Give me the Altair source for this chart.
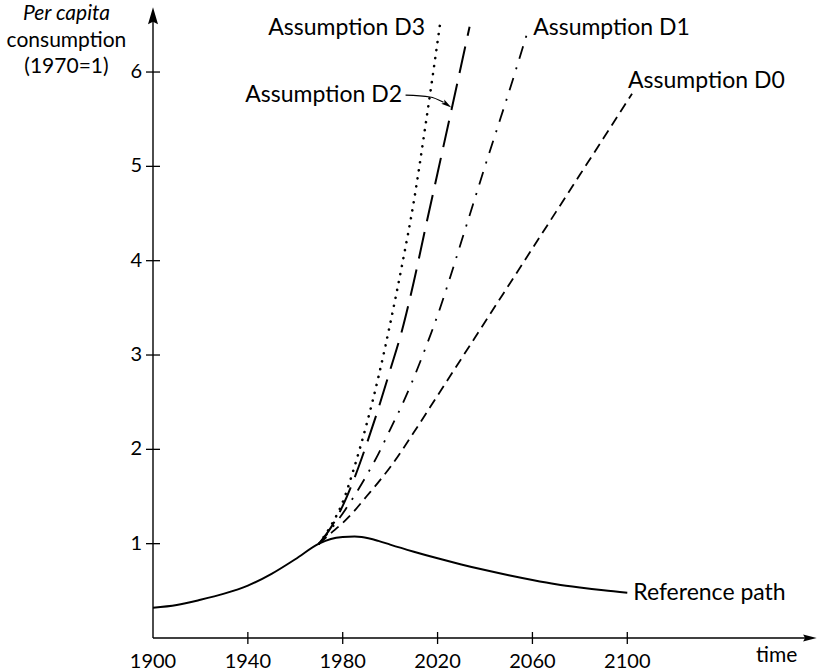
import altair as alt
import pandas as pd

# ---------------- data ----------------
ref_years = [1900, 1910, 1920, 1930, 1940, 1950, 1960, 1970, 1975, 1980, 1985, 1988,
             1995, 2000, 2010, 2020, 2030, 2040, 2050, 2060, 2070, 2080, 2090, 2100]
ref_vals = [0.32, 0.35, 0.405, 0.47, 0.555, 0.68, 0.835, 1.00, 1.05, 1.07, 1.075, 1.07,
            1.03, 0.99, 0.915, 0.845, 0.78, 0.72, 0.665, 0.615, 0.57, 0.535, 0.505, 0.48]

d0_years = [1970, 1975, 1980, 1985, 1990, 1995, 2000, 2005, 2010, 2020, 2030,
            2040, 2050, 2060, 2070, 2080, 2090, 2102]
d0_vals = [1.00, 1.11, 1.22, 1.35, 1.50, 1.65, 1.81, 1.99, 2.18, 2.57, 2.96,
           3.35, 3.74, 4.13, 4.52, 4.91, 5.30, 5.77]

d1_years = [1970, 1975, 1980, 1985, 1990, 1995, 2000, 2005, 2010, 2015, 2020, 2025,
            2030, 2035, 2040, 2045, 2050, 2058]
d1_vals = [1.00, 1.15, 1.32, 1.51, 1.72, 1.95, 2.21, 2.47, 2.76, 3.08, 3.42, 3.80,
           4.20, 4.60, 5.00, 5.39, 5.78, 6.43]

d2_years = [1970, 1975, 1980, 1985, 1990, 1995, 2000, 2005, 2010, 2015, 2020, 2025, 2033.5]
d2_vals = [1.00, 1.17, 1.40, 1.70, 2.05, 2.43, 2.84, 3.26, 3.78, 4.36, 4.93, 5.50, 6.48]

d3_years = [1970, 1975, 1980, 1985, 1990, 1995, 2000, 2005, 2010, 2015, 2021]
d3_vals = [1.00, 1.19, 1.44, 1.82, 2.26, 2.76, 3.33, 3.95, 4.63, 5.45, 6.50]

x_tick_years = [1940, 1980, 2020, 2060, 2100]
x_label_years = [1900, 1940, 1980, 2020, 2060, 2100]
x_label_texts = ["1900", "1940", "1980", "2020", "2060", "2100"]
y_tick_vals = [1, 2, 3, 4, 5, 6]
y_label_texts = ["1", "2", "3", "4", "5", "6"]

series_labels = ["Assumption D3", "Assumption D2", "Assumption D1",
                 "Assumption D0", "Reference path"]
y_title_lines = ["Per capita", "consumption", "(1970=1)"]
x_title = "time"

# ---------------- layout / style ----------------
FONT = "Lato"
X = alt.Scale(domain=[1900, 2180], nice=False, zero=False)
Y = alt.Scale(domain=[0, 6.7], nice=False, zero=False)


def xq(f="x"):
    return alt.X(f"{f}:Q", scale=X, axis=None)


def yq(f="y"):
    return alt.Y(f"{f}:Q", scale=Y, axis=None)


def line(years, vals, width, dash=None, cap="butt"):
    df = pd.DataFrame({"x": years, "y": vals})
    kw = dict(color="black", strokeWidth=width, interpolate="monotone", strokeCap=cap)
    if dash is not None:
        kw["strokeDash"] = dash
    return alt.Chart(df).mark_line(**kw).encode(x=xq(), y=yq())


layers = []

# curves
layers.append(line(ref_years, ref_vals, 2.0))
layers.append(line(d0_years, d0_vals, 1.8, [10, 6]))
layers.append(line(d1_years, d1_vals, 1.8, [13, 9, 2, 9]))
layers.append(line(d2_years, d2_vals, 2.0, [27, 11]))
layers.append(line(d3_years, d3_vals, 2.6, [0.1, 8], cap="round"))

# axes lines
xaxis_df = pd.DataFrame({"x": [1900], "x2": [2178], "y": [0]})
layers.append(alt.Chart(xaxis_df).mark_rule(color="black", strokeWidth=1.4).encode(
    x=xq(), x2="x2:Q", y=yq()))
yaxis_df = pd.DataFrame({"x": [1900], "y": [0], "y2": [6.62]})
layers.append(alt.Chart(yaxis_df).mark_rule(color="black", strokeWidth=1.4).encode(
    x=xq(), y=yq(), y2="y2:Q"))

# arrow heads
up_df = pd.DataFrame({"x": [1900], "y": [6.58]})
layers.append(alt.Chart(up_df).mark_point(
    shape="M0,-1L0.5,0.7L0,0.45L-0.5,0.7Z", size=400, filled=True,
    color="black", opacity=1, strokeWidth=0).encode(x=xq(), y=yq()))
right_df = pd.DataFrame({"x": [2176.5], "y": [0]})
layers.append(alt.Chart(right_df).mark_point(
    shape="M1,0L-0.7,-0.45L-0.45,0L-0.7,0.45Z", size=256, filled=True,
    color="black", opacity=1, strokeWidth=0).encode(x=xq(), y=yq()))

# ticks crossing axes
ytick_df = pd.DataFrame({"x": [1900] * len(y_tick_vals), "y": y_tick_vals})
layers.append(alt.Chart(ytick_df).mark_tick(
    orient="horizontal", size=14, thickness=1.3, color="black", opacity=1).encode(x=xq(), y=yq()))
xtick_df = pd.DataFrame({"x": x_tick_years, "y": [0] * len(x_tick_years)})
layers.append(alt.Chart(xtick_df).mark_tick(
    orient="vertical", size=12, thickness=1.3, color="black", opacity=1).encode(x=xq(), y=yq()))

# tick labels
ylab_df = pd.DataFrame({"x": [1900] * len(y_tick_vals), "y": y_tick_vals, "t": y_label_texts})
layers.append(alt.Chart(ylab_df).mark_text(
    font=FONT, fontSize=20, align="right", baseline="middle", dx=-11, color="black"
).encode(x=xq(), y=yq(), text="t:N"))
xlab_df = pd.DataFrame({"x": x_label_years, "y": [0] * len(x_label_years), "t": x_label_texts})
layers.append(alt.Chart(xlab_df).mark_text(
    font=FONT, fontSize=20, align="center", baseline="alphabetic", dy=30, color="black"
).encode(x=xq(), y=yq(), text="t:N"))

# axis titles
xt_df = pd.DataFrame({"x": [2163], "y": [0], "t": [x_title]})
layers.append(alt.Chart(xt_df).mark_text(
    font=FONT, fontSize=21, align="center", baseline="alphabetic", dy=24, color="black"
).encode(x=xq(), y=yq(), text="t:N"))

yt_pos_x = [1863.5, 1863.5, 1863.5]
yt_pos_y = [6.555, 6.27, 5.99]
yt_styles = ["italic", "normal", "normal"]
for i in range(3):
    df = pd.DataFrame({"x": [yt_pos_x[i]], "y": [yt_pos_y[i]], "t": [y_title_lines[i]]})
    layers.append(alt.Chart(df).mark_text(
        font=FONT, fontSize=21, fontStyle=yt_styles[i], align="center",
        baseline="alphabetic", color="black").encode(x=xq(), y=yq(), text="t:N"))

# series annotations
ann_x = [2014.7, 2005.0, 2060.3, 2100.3, 2102.5]
ann_y = [6.39, 5.68, 6.39, 5.83, 0.48]
ann_align = ["right", "right", "left", "left", "left"]
ann_base = ["alphabetic", "alphabetic", "alphabetic", "alphabetic", "middle"]
for i in range(len(series_labels)):
    df = pd.DataFrame({"x": [ann_x[i]], "y": [ann_y[i]], "t": [series_labels[i]]})
    layers.append(alt.Chart(df).mark_text(
        font=FONT, fontSize=23, align=ann_align[i], baseline=ann_base[i], color="black"
    ).encode(x=xq(), y=yq(), text="t:N"))

# D2 label connector arrow
conn_df = pd.DataFrame({"x": [2006.5, 2016.8, 2022.5], "y": [5.755, 5.735, 5.68]})
layers.append(alt.Chart(conn_df).mark_line(
    color="black", strokeWidth=1.2, interpolate="monotone").encode(x=xq(), y=yq()))
head_df = pd.DataFrame({"x": [2024.0], "y": [5.655]})
layers.append(alt.Chart(head_df).mark_point(
    shape="M1,0L-1,-0.5L-0.6,0L-1,0.5Z", size=110, angle=35, filled=True,
    color="black", opacity=1, strokeWidth=0).encode(x=xq(), y=yq()))

chart = alt.layer(*layers).properties(
    width=664, height=632,
    autosize=alt.AutoSizeParams(type="none"),
    padding={"left": 153, "top": 6, "right": 4, "bottom": 34},
    background="white",
).configure_view(stroke=None)

chart.save("out.html", embed_options={"renderer": "svg", "actions": False})
